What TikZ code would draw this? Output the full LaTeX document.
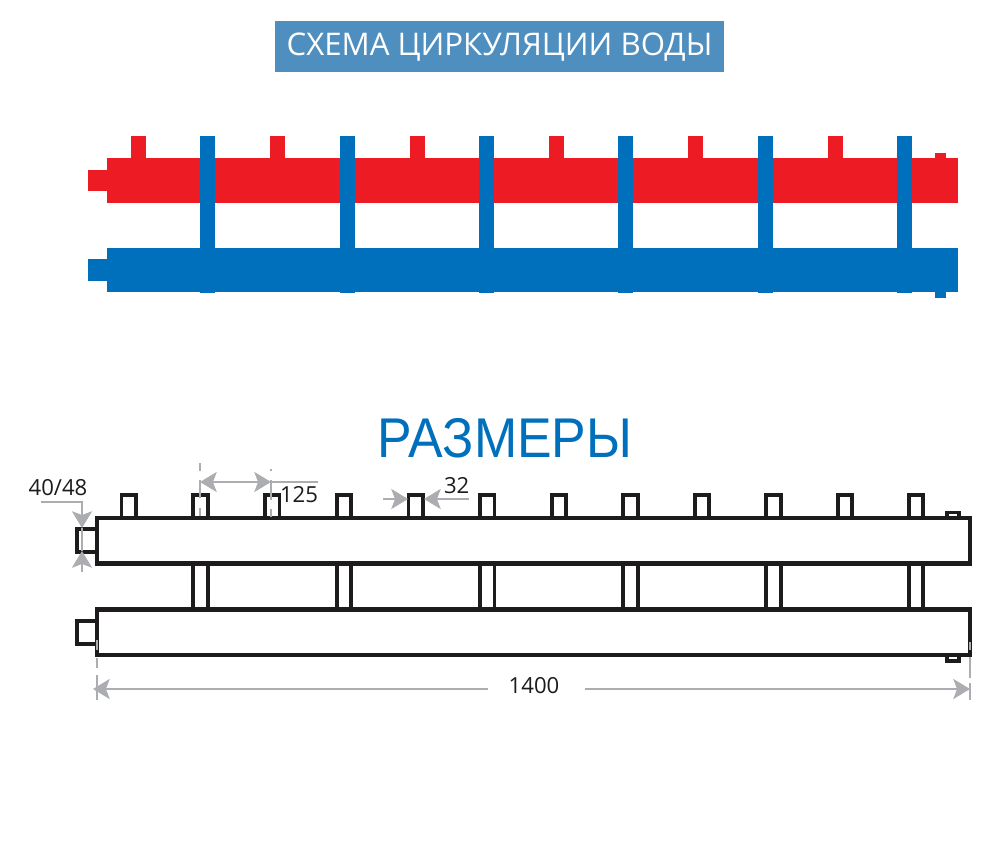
\documentclass[tikz,border=0pt]{standalone}
\usepackage{fontspec}
\setmainfont{Open Sans}
\newfontfamily\arialfont[FakeStretch=0.926]{Liberation Sans}
\usetikzlibrary{arrows.meta}
\definecolor{hotred}{HTML}{ED1C24}
\definecolor{coldblue}{HTML}{0170BC}
\definecolor{bannerblue}{HTML}{4F8FBF}
\definecolor{dimgrey}{HTML}{ABADB0}
\definecolor{inkblack}{HTML}{1E1B1C}
\tikzset{
  x=0.75pt,y=-0.75pt,
  hot/.style={fill=hotred,draw=none},
  cold/.style={fill=coldblue,draw=none},
  ink/.style={draw=inkblack,line width=3.1pt,line join=miter,fill=none},
  inkthin/.style={draw=inkblack,line width=2.8pt,line join=miter,fill=none},
  dimline/.style={draw=dimgrey,line width=1.9pt},
  greytip/.tip={Stealth[length=12.5pt,width=15pt,inset=2.8pt,color=dimgrey]},
  dimtip/.style={-greytip},
  dimlabel/.style={text=inkblack,font=\fontsize{16.6}{18}\selectfont,inner sep=0pt,anchor=center},
}
\begin{document}
\begin{tikzpicture}
\useasboundingbox (0,0) rectangle (1000,867);
\fill[white] (0,0) rectangle (1000,867);

% banner
\node[fill=bannerblue,text=white,inner sep=0pt,minimum width=337pt,minimum height=38.25pt,
      font=\fontsize{23.4}{28}\selectfont] (banner) at (499.5,46.5) {\raisebox{-6.4pt}[0pt][0pt]{СХЕМА ЦИРКУЛЯЦИИ ВОДЫ}};

% circulation scheme
\fill[hot] (107,158) rectangle (958,203);
\fill[hot] (88,170) rectangle (107,191);
\foreach \xx in {131,270,410,549,688,828} \fill[hot] (\xx,136) rectangle ++(14.5,22);
\fill[hot] (935,153) rectangle (946,158);
\fill[cold] (107,248) rectangle (958,292);
\fill[cold] (88,259) rectangle (107,281);
\fill[cold] (935,292) rectangle (946,298);
\foreach \xx in {200,340,479,618,758,897} \fill[cold] (\xx,136) rectangle ++(14.5,157);

% heading
\node[text=coldblue,inner sep=0pt,font=\arialfont\fontsize{42}{46}\selectfont] (heading) at (505,438.5) {РАЗМЕРЫ};

% dimensions drawing: spigots on top
\foreach \cx in {128.7,200.5,272.2,343.9,415.6,487.3,559,630.5,702,773.5,845,916}
  \draw[inkthin] (\cx-7.2,518) -- (\cx-7.2,495) -- (\cx+7.2,495) -- (\cx+7.2,518);
% connecting pipes
\foreach \cx in {200.5,343.9,487.3,630.5,773.5,916}
  \draw[inkthin] (\cx-7.2,563.5) -- (\cx-7.2,609.5) (\cx+7.2,563.5) -- (\cx+7.2,609.5);
% small right bosses
\draw[inkthin] (947,518) -- (947,512.5) -- (959,512.5) -- (959,518);
\draw[inkthin] (947,655) -- (947,661) -- (959,661) -- (959,655);
% side stubs
\draw[inkthin] (97,529) -- (77,529) -- (77,552) -- (97,552);
\draw[inkthin] (97,621) -- (77,621) -- (77,644) -- (97,644);
% headers
\draw[ink] (97,518) rectangle (970,563.5);
\draw[ink] (97,609.5) rectangle (970,655);

% dimension 40/48
\node[dimlabel] (lblpipe) at (58,488) {40/48};
\coordinate (pipeA) at (41,502);
\coordinate (pipeB) at (82,502);
\coordinate (pipeC) at (82,528);
\coordinate (pipeD) at (82,572);
\coordinate (pipeE) at (82,551);
\draw[dimline,dimtip] (pipeA) -- (pipeB) -- (pipeC);
\draw[dimline,dimtip] (pipeD) -- (pipeE);
\draw[dimline] (pipeC) -- (pipeE);

% dimension 125
\node[dimlabel] (lblpitch) at (299,495) {125};
\coordinate (pitchL) at (200,482);
\coordinate (pitchR) at (271,482);
\coordinate (pitchEnd) at (318,482);
\draw[dimline,greytip-greytip] (pitchL) -- (pitchR);
\draw[dimline] (pitchR) -- (pitchEnd);
\draw[dimline] (200,463) -- (200,471) (200,480) -- (200,498) (200,508) -- (200,516);
\draw[dimline] (271,469) -- (271,471) (271,480) -- (271,500) (271,509) -- (271,517);

% dimension 32
\node[dimlabel] (lblwidth) at (456.7,486) {32};
\coordinate (wA) at (383,499);
\coordinate (wB) at (408,499);
\coordinate (wC) at (469,499);
\coordinate (wD) at (424,499);
\draw[dimline,dimtip] (wA) -- (wB);
\draw[dimline,dimtip] (wC) -- (wD);

% dimension 1400
\node[dimlabel] (lbllength) at (534,686) {1400};
\coordinate (lenL) at (93,689);
\coordinate (lenLe) at (488,689);
\coordinate (lenR) at (970,689);
\coordinate (lenRe) at (585,689);
\draw[dimline,dimtip] (lenLe) -- (lenL);
\draw[dimline,dimtip] (lenRe) -- (lenR);
\draw[dimline] (97,640) -- (97,650) (97,658) -- (97,668) (97,675) -- (97,700);
\draw[dimline] (970,642) -- (970,650) (970,657) -- (970,678) (970,683) -- (970,700);
\end{tikzpicture}
\end{document}
